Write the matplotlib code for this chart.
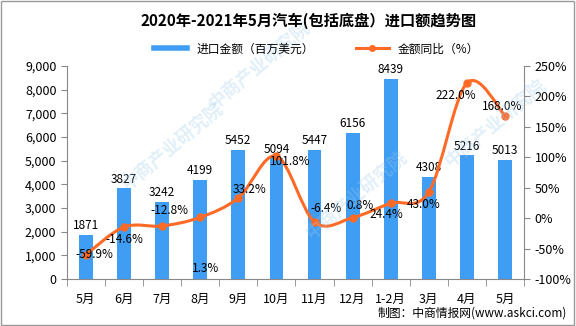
import numpy as np
import matplotlib.pyplot as plt
from matplotlib.path import Path
from matplotlib.patches import PathPatch
from matplotlib.lines import Line2D

plt.rcParams['font.family'] = ['Noto Sans CJK SC', 'DejaVu Sans']

months = ['5月', '6月', '7月', '8月', '9月', '10月', '11月', '12月', '1-2月', '3月', '4月', '5月']
amount = [1871, 3827, 3242, 4199, 5452, 5094, 5447, 6156, 8439, 4308, 5216, 5013]
yoy = [-59.9, -14.6, -12.8, 1.3, 33.2, 101.8, -6.4, 0.8, 24.4, 43.0, 222.0, 168.0]

# label offsets (points) for the line labels
lab_off = [(6, 0), (0, -9), (5, 11), (4, -37), (8, 6), (10, -4), (8, 10), (5, 9), (-3, -8), (-4, -9), (-8, -9), (-2, 7)]

blue = '#3F9DF3'
orange = '#FF6A26'

fig = plt.figure(figsize=(5.76, 3.26), dpi=100)
ax = fig.add_axes([0.116, 0.144, 0.794, 0.654])
x = np.arange(len(months))

ax.bar(x, amount, width=0.36, color=blue, zorder=2)
for xi, v in zip(x, amount):
    ax.text(xi, v + 120, str(v), ha='center', va='bottom', fontsize=8.5, zorder=5)

ax.set_xlim(-0.5, len(months) - 0.5)
ax.set_ylim(0, 9000)
ax.set_yticks(range(0, 9001, 1000))
ax.set_yticklabels([f'{v:,}' for v in range(0, 9001, 1000)], fontsize=9)
ax.set_xticks(x)
ax.set_xticklabels(months, fontsize=9)
ax.set_xticks(np.arange(-0.5, len(months), 1), minor=True)
ax.tick_params(axis='x', which='major', length=0, pad=10)
ax.tick_params(axis='x', which='minor', length=5, color='#888888')
ax.tick_params(axis='y', length=4, color='#888888')
for s in ['top', 'right']:
    ax.spines[s].set_visible(False)
for s in ['left', 'bottom']:
    ax.spines[s].set_color('#888888')

ax2 = ax.twinx()
ax2.set_ylim(-100, 250)
ax2.set_yticks(range(-100, 251, 50))
ax2.set_yticklabels([f'{v}%' for v in range(-100, 251, 50)], fontsize=9)
ax2.tick_params(axis='y', length=4, color='#888888')
for s in ['top', 'left', 'bottom']:
    ax2.spines[s].set_visible(False)
ax2.spines['right'].set_color('#888888')

# smooth curve through the points (Catmull-Rom -> cubic Bezier)
pts = np.column_stack([x, yoy]).astype(float)
verts = [tuple(pts[0])]
codes = [Path.MOVETO]
for i in range(len(pts) - 1):
    p0 = pts[i - 1] if i > 0 else pts[i]
    p1 = pts[i]
    p2 = pts[i + 1]
    p3 = pts[i + 2] if i + 2 < len(pts) else pts[i + 1]
    c1 = p1 + (p2 - p0) / 6
    c2 = p2 - (p3 - p1) / 6
    verts += [tuple(c1), tuple(c2), tuple(p2)]
    codes += [Path.CURVE4] * 3
ax2.add_patch(PathPatch(Path(verts, codes), fill=False, edgecolor=orange, lw=2.2, zorder=3))
ax2.plot(x, yoy, 'o', color=orange, ms=5, zorder=4)
for xi, v, off in zip(x, yoy, lab_off):
    ax2.annotate(f'{v:.1f}%', (xi, v), xytext=off, textcoords='offset points',
                 ha='center', va='center', fontsize=8.5, zorder=6)

# faint watermark
for (wx, wy) in [(0.30, 0.55), (0.62, 0.40), (0.86, 0.62), (0.45, 0.80)]:
    fig.text(wx, wy, '中商产业研究院', rotation=40, fontsize=13, color='#9CCBEA',
             alpha=0.3, ha='center', va='center', fontweight='bold', zorder=0)

fig.text(0.535, 0.935, '2020年-2021年5月汽车(包括底盘）进口额趋势图', ha='center', va='center',
         fontsize=11, fontweight='bold')
handles = [Line2D([0], [0], color=blue, lw=4),
           Line2D([0], [0], color=orange, lw=2.2, marker='o', ms=4)]
fig.legend(handles, ['进口金额（百万美元）', '金额同比（%）'], loc='center', bbox_to_anchor=(0.55, 0.85),
           ncol=2, frameon=False, fontsize=8.5, handlelength=2.8, columnspacing=3.5)
fig.text(0.985, 0.02, '制图：中商情报网(www.askci.com)', ha='right', va='bottom', fontsize=8.5)
fig.patches.append(plt.Rectangle((0.002, 0.003), 0.995, 0.994, transform=fig.transFigure,
                                 fill=False, edgecolor='#999999', lw=1))
fig.savefig('out.png', dpi=100)
